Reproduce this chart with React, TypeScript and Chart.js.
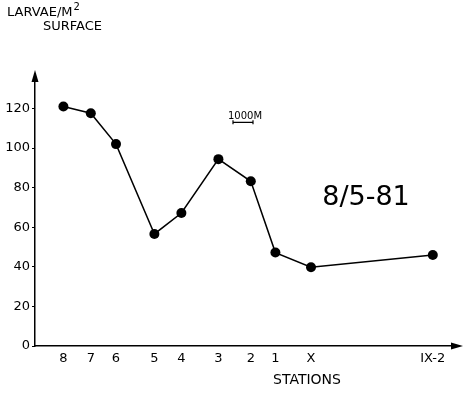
import React, { useEffect, useRef } from "react";
import { Chart, registerables } from "chart.js";

Chart.register(...registerables);

const stationLabels = ["8", "7", "6", "5", "4", "3", "2", "1", "X", "IX-2"];
const stationPositionsKm = [1.42, 2.79, 4.05, 5.97, 7.32, 9.17, 10.79, 12.02, 13.8, 19.89];
const larvaeValues = [121, 117.6, 102, 56.6, 67.2, 94.4, 83.2, 47.2, 39.8, 46];
const yTickValues = [0, 20, 40, 60, 80, 100, 120];
const scaleBarKm = [9.9, 10.9];
const scaleBarLevel = 113;
const dateLabel = "8/5-81";

const FONT = "'DejaVu Sans', sans-serif";

const decorations = {
  id: "decorations",
  afterDraw(chart: any) {
    const ctx = chart.ctx as CanvasRenderingContext2D;
    const { left, right, top, bottom } = chart.chartArea;
    const xs = chart.scales.x;
    const ys = chart.scales.y;
    ctx.save();
    ctx.fillStyle = "#000";
    ctx.strokeStyle = "#000";
    // arrow heads
    ctx.beginPath();
    ctx.moveTo(left, top - 6);
    ctx.lineTo(left - 3.5, top + 6);
    ctx.lineTo(left + 3.5, top + 6);
    ctx.closePath();
    ctx.fill();
    ctx.beginPath();
    ctx.moveTo(right + 6, bottom);
    ctx.lineTo(right - 6, bottom - 3.5);
    ctx.lineTo(right - 6, bottom + 3.5);
    ctx.closePath();
    ctx.fill();
    // y axis title
    ctx.font = `13px ${FONT}`;
    ctx.textBaseline = "alphabetic";
    ctx.textAlign = "left";
    ctx.fillText("LARVAE/M", 7, 16);
    const w = ctx.measureText("LARVAE/M").width;
    ctx.font = `10px ${FONT}`;
    ctx.fillText("2", 7 + w + 1, 10);
    ctx.font = `13px ${FONT}`;
    ctx.fillText("SURFACE", 43, 30);
    // x axis title
    ctx.textAlign = "center";
    ctx.font = `14px ${FONT}`;
    ctx.fillText("STATIONS", 307, 384);
    // scale bar
    const x1 = xs.getPixelForValue(scaleBarKm[0]);
    const x2 = xs.getPixelForValue(scaleBarKm[1]);
    const yb = ys.getPixelForValue(scaleBarLevel);
    ctx.lineWidth = 1.2;
    ctx.beginPath();
    ctx.moveTo(x1, yb);
    ctx.lineTo(x2, yb);
    ctx.moveTo(x1, yb - 2);
    ctx.lineTo(x1, yb + 2);
    ctx.moveTo(x2, yb - 2);
    ctx.lineTo(x2, yb + 2);
    ctx.stroke();
    ctx.font = `10px ${FONT}`;
    ctx.textBaseline = "bottom";
    ctx.fillText("1000M", (x1 + x2) / 2 + 2, yb - 1);
    // date
    ctx.font = `27px ${FONT}`;
    ctx.textBaseline = "middle";
    ctx.fillText(dateLabel, 366, 198);
    ctx.restore();
  },
};

export default function App() {
  const ref = useRef<HTMLCanvasElement>(null);
  useEffect(() => {
    document.body.style.margin = "0";
    const chart = new Chart(ref.current as HTMLCanvasElement, {
      type: "scatter",
      data: {
        datasets: [
          {
            data: stationPositionsKm.map((x, i) => ({ x, y: larvaeValues[i] })),
            showLine: true,
            borderColor: "#000",
            backgroundColor: "#000",
            borderWidth: 1.5,
            pointRadius: 5,
            pointBorderWidth: 0,
          },
        ],
      },
      options: {
        animation: false,
        responsive: false,
        layout: { padding: { left: 0, right: 13, top: 76, bottom: 0 } },
        plugins: { legend: { display: false }, tooltip: { enabled: false }, title: { display: false } },
        scales: {
          x: {
            type: "linear",
            min: 0,
            max: 21.1,
            afterBuildTicks: (s: any) => {
              s.ticks = stationPositionsKm.map((v) => ({ value: v }));
            },
            afterFit: (s: any) => {
              s.height = 48;
            },
            ticks: {
              autoSkip: false,
              maxRotation: 0,
              padding: 5,
              color: "#000",
              font: { family: FONT, size: 13 },
              callback: (_v: any, i: number) => stationLabels[i],
            },
            grid: { display: true, drawOnChartArea: false, drawTicks: false, color: "#000" },
            border: { display: true, color: "#000", width: 1.5 },
          },
          y: {
            type: "linear",
            min: 0,
            max: 136.4,
            afterBuildTicks: (s: any) => {
              s.ticks = yTickValues.map((v) => ({ value: v }));
            },
            afterFit: (s: any) => {
              s.width = 35;
            },
            ticks: {
              padding: 2,
              color: "#000",
              font: { family: FONT, size: 13 },
            },
            grid: { display: true, drawOnChartArea: false, drawTicks: true, tickLength: 3, color: "#000" },
            border: { display: true, color: "#000", width: 1.5 },
          },
        },
      },
      plugins: [decorations],
    });
    return () => chart.destroy();
  }, []);
  return <canvas ref={ref} width={470} height={394} style={{ display: "block" }} />;
}
